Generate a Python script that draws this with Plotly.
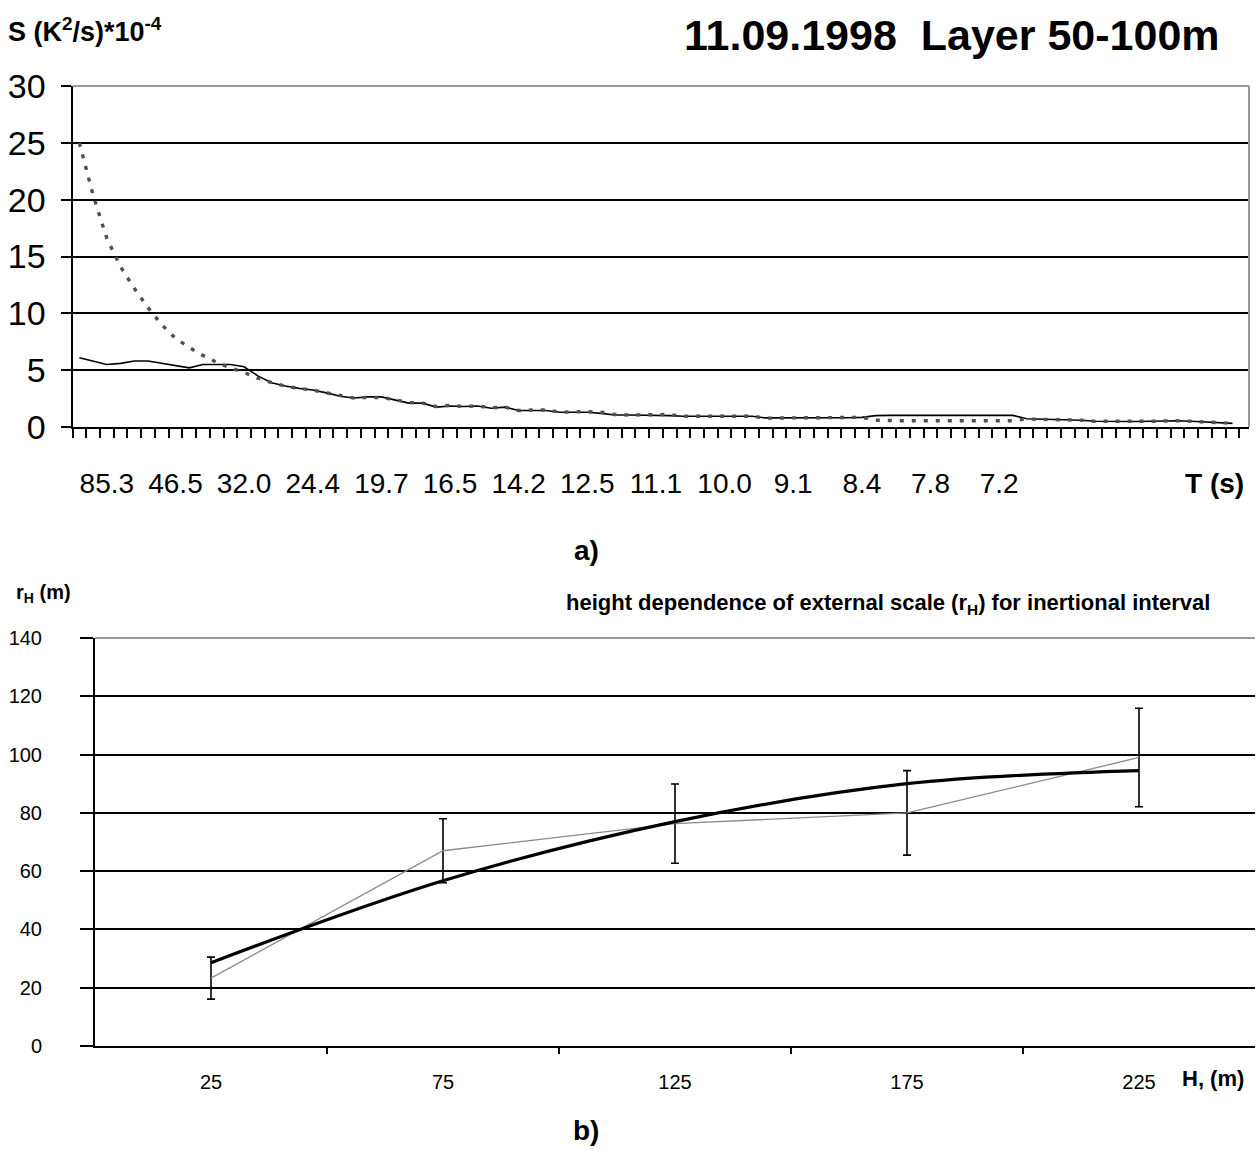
import plotly.graph_objects as go

# ---------------- data: panel a ----------------
k_index = list(range(4, 89))  # spectral harmonic index (T = 512/k)
s_solid = [6.1, 5.8, 5.5, 5.6, 5.8, 5.8, 5.6, 5.4, 5.2, 5.5,
           5.5, 5.5, 5.3, 4.5, 3.9, 3.6, 3.4, 3.25, 3.0, 2.7,
           2.55, 2.65, 2.65, 2.4, 2.1, 2.1, 1.75, 1.85, 1.8, 1.85,
           1.65, 1.75, 1.45, 1.45, 1.45, 1.3, 1.3, 1.3, 1.2, 1.05,
           1.05, 1.05, 1.05, 1.0, 0.95, 0.95, 0.95, 0.95, 0.95, 0.95,
           0.8, 0.8, 0.78, 0.78, 0.78, 0.8, 0.82, 0.85, 1.0, 1.02,
           1.02, 1.02, 1.02, 1.02, 1.02, 1.02, 1.02, 1.02, 1.02, 0.72,
           0.7, 0.65, 0.62, 0.6, 0.5, 0.48, 0.47, 0.48, 0.5, 0.52,
           0.55, 0.5, 0.45, 0.38, 0.32]
s_dashed = [25.0, 20.4, 16.6, 14.1, 12.2, 10.5, 9.0, 7.8, 7.0, 6.3,
            5.7, 5.2, 4.8, 4.3, 3.9, 3.6, 3.4, 3.25, 3.0, 2.75,
            2.55, 2.6, 2.6, 2.4, 2.15, 2.1, 1.8, 1.9, 1.8, 1.85,
            1.7, 1.75, 1.45, 1.5, 1.5, 1.3, 1.35, 1.35, 1.3, 1.1,
            1.05, 1.05, 1.05, 1.1, 0.95, 0.95, 0.95, 0.95, 0.95, 0.95,
            0.78, 0.78, 0.78, 0.78, 0.78, 0.8, 0.82, 0.85, 0.6, 0.55,
            0.55, 0.55, 0.55, 0.55, 0.55, 0.55, 0.55, 0.55, 0.55, 0.7,
            0.68, 0.62, 0.62, 0.6, 0.5, 0.48, 0.47, 0.5, 0.5, 0.55,
            0.55, 0.5, 0.45, 0.38, 0.32]
t_label_k = [6, 11, 16, 21, 26, 31, 36, 41, 46, 51, 56, 61, 66, 71]
t_label_text = ["85.3", "46.5", "32.0", "24.4", "19.7", "16.5", "14.2",
                "12.5", "11.1", "10.0", "9.1", "8.4", "7.8", "7.2"]
s_ticks = [0, 5, 10, 15, 20, 25, 30]

# ---------------- data: panel b ----------------
h_vals = [25, 75, 125, 175, 225]
r_meas = [23.3, 67.0, 76.3, 80.0, 99.0]
r_err = [7.2, 11.0, 13.6, 14.5, 16.9]
r_fit = [28.6, 56.7, 77.0, 90.0, 94.5]
r_ticks = [0, 20, 40, 60, 80, 100, 120, 140]
h_minor = [50, 100, 150, 200]

W, H = 1260, 1149
FONT = "Liberation Sans, Arial, sans-serif"

def px(x):
    return x / W

def py(y):
    return 1 - y / H

fig = go.Figure()

fig.add_trace(go.Scatter(x=k_index, y=s_solid, mode="lines",
                         line=dict(color="black", width=1.6),
                         xaxis="x", yaxis="y", showlegend=False))
fig.add_trace(go.Scatter(x=k_index, y=s_dashed, mode="lines",
                         line=dict(color="#505050", width=3.4, dash="4px,8px"),
                         xaxis="x", yaxis="y", showlegend=False))

fig.add_trace(go.Scatter(x=h_vals, y=r_meas, mode="lines",
                         line=dict(color="#8a8a8a", width=1.3),
                         error_y=dict(type="data", array=r_err, visible=True,
                                      color="black", thickness=1.6, width=4),
                         xaxis="x2", yaxis="y2", showlegend=False))
fig.add_trace(go.Scatter(x=h_vals, y=r_fit, mode="lines",
                         line=dict(color="black", width=3.2, shape="spline"),
                         xaxis="x2", yaxis="y2", showlegend=False))

top_x0, top_x1, top_y0, top_y1 = 72.5, 1249, 427, 86
bot_x0, bot_x1, bot_y0, bot_y1 = 95, 1255, 1046, 638

fig.update_layout(
    width=W, height=H, autosize=False,
    margin=dict(l=0, r=0, t=0, b=0, pad=0, autoexpand=False),
    paper_bgcolor="white", plot_bgcolor="white",
    font=dict(family=FONT, color="black"),
    xaxis=dict(domain=[px(top_x0), px(top_x1)], range=[3.5, 89.2],
               anchor="y", showgrid=False, zeroline=False, automargin=False,
               showline=True, linecolor="black", linewidth=2,
               tickmode="array", tickvals=t_label_k, ticktext=t_label_text,
               ticks="outside", ticklen=0, tickfont=dict(size=28),
               ticklabelstandoff=30,
               minor=dict(tickmode="array",
                          tickvals=[k + 0.5 for k in range(3, 89)],
                          ticks="outside", ticklen=9, tickwidth=1.5,
                          tickcolor="black", showgrid=False)),
    yaxis=dict(domain=[py(top_y0), py(top_y1)], range=[0, 30],
               anchor="x", showgrid=True, gridcolor="black", gridwidth=2,
               zeroline=False, showline=True, linecolor="black", linewidth=2,
               automargin=False,
               tickmode="array", tickvals=s_ticks,
               ticks="outside", ticklen=10, tickwidth=2, tickcolor="black",
               tickfont=dict(size=34), ticklabelstandoff=8),
    xaxis2=dict(domain=[px(bot_x0), px(bot_x1)], range=[0, 250],
                anchor="y2", showgrid=False, zeroline=False, automargin=False,
                showline=True, linecolor="black", linewidth=2,
                tickmode="array", tickvals=h_vals,
                ticks="outside", ticklen=0, tickfont=dict(size=20),
                ticklabelstandoff=17,
                minor=dict(tickmode="array", tickvals=h_minor,
                           ticks="outside", ticklen=6, tickwidth=1.5,
                           tickcolor="black", showgrid=False)),
    yaxis2=dict(domain=[py(bot_y0), py(bot_y1)], range=[0, 140],
                anchor="x2", showgrid=True, gridcolor="black", gridwidth=2,
                zeroline=False, showline=True, linecolor="black", linewidth=2,
                automargin=False,
                tickmode="array", tickvals=r_ticks,
                ticks="outside", ticklen=13, tickwidth=2, tickcolor="black",
                tickfont=dict(size=20), ticklabelstandoff=34),
)

# light-grey top border lines and right border of panel a
fig.add_shape(type="line", xref="paper", yref="paper",
              x0=px(top_x0), x1=px(top_x1), y0=py(top_y1), y1=py(top_y1),
              line=dict(color="#9a9a9a", width=2), layer="above")
fig.add_shape(type="line", xref="paper", yref="paper",
              x0=px(top_x1), x1=px(top_x1), y0=py(top_y0), y1=py(top_y1),
              line=dict(color="#9a9a9a", width=2), layer="above")
fig.add_shape(type="line", xref="paper", yref="paper",
              x0=px(bot_x0), x1=px(bot_x1), y0=py(bot_y1), y1=py(bot_y1),
              line=dict(color="#9a9a9a", width=2), layer="above")

def ann(text, x, y, size, xanchor="left", bold=True):
    fig.add_annotation(text=("<b>%s</b>" % text) if bold else text,
                       x=px(x), y=py(y), xref="paper", yref="paper",
                       xanchor=xanchor, yanchor="middle", showarrow=False,
                       font=dict(size=size, family=FONT, color="black"))

ann("11.09.1998  Layer 50-100m", 1222, 35, 43, "right")
ann("S (K<sup>2</sup>/s)*10<sup>-4</sup>", 6, 30, 27, "left")
ann("T (s)", 1246, 483, 28, "right")
ann("a)", 586, 550, 28, "center")
ann("r<sub>H</sub> (m)", 14, 593, 20, "left")
ann("height dependence of external scale (r<sub>H</sub>) for inertional interval",
    1212, 604, 22, "right")
ann("H, (m)", 1246, 1078, 22, "right")
ann("b)", 586, 1130, 28, "center")

fig.write_html("out.html",
               config={"displayModeBar": False},
               post_script="document.body.style.margin='0';"
                           "document.body.style.overflow='hidden';")
